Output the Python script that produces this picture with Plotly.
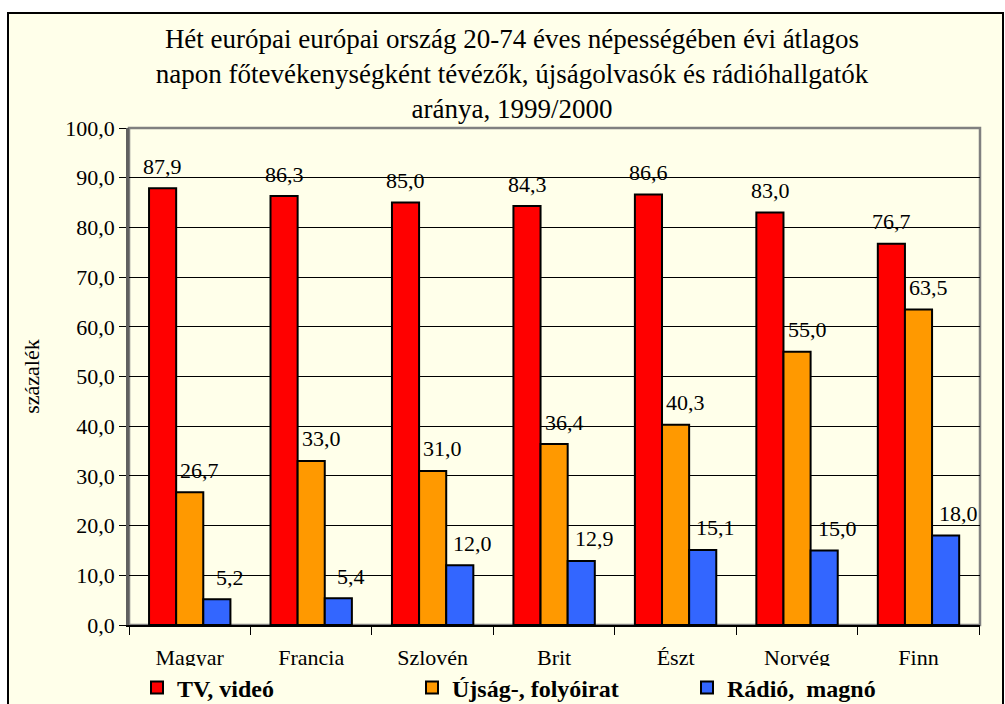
import plotly.graph_objects as go

categories = ["Magyar", "Francia", "Szlovén", "Brit", "Észt", "Norvég", "Finn"]
tv_video = [87.9, 86.3, 85.0, 84.3, 86.6, 83.0, 76.7]
ujsag = [26.7, 33.0, 31.0, 36.4, 40.3, 55.0, 63.5]
radio = [5.2, 5.4, 12.0, 12.9, 15.1, 15.0, 18.0]
series_names = ["TV, videó", "Újság-, folyóirat", "Rádió,  magnó"]
y_ticks = [0, 10, 20, 30, 40, 50, 60, 70, 80, 90, 100]

colors = ["#FF0000", "#FF9900", "#3366FF"]
serif = "Liberation Serif"
cream = "#FFFFEA"

W, H = 1005, 704
L, R, T, B = 129, 25, 128, 79
pw, ph = W - L - R, H - T - B

fig = go.Figure()
for name, vals, col in zip(series_names, [tv_video, ujsag, radio], colors):
    fig.add_trace(go.Bar(
        x=categories, y=vals, name=name,
        marker=dict(color=col, line=dict(color="black", width=2)),
    ))

# data labels
offsets = [-27, 10, 40]
for vals, off in zip([tv_video, ujsag, radio], offsets):
    for c, v in zip(categories, vals):
        fig.add_annotation(
            x=c, y=v, xref="x", yref="y",
            text=f"{v:.1f}".replace(".", ","),
            showarrow=False, xshift=off, yshift=22,
            font=dict(family=serif, size=22, color="black"),
        )


def px_x(p):
    return (p - L) / pw


def px_y(p):
    return (H - B - p) / ph


# outer frame (cream chart area with black border)
fig.add_shape(type="rect", xref="paper", yref="paper",
              x0=px_x(8), x1=px_x(1003), y0=px_y(712), y1=px_y(13),
              fillcolor=cream, line=dict(color="black", width=2), layer="below")
# plot area border (gray)
fig.add_shape(type="rect", xref="paper", yref="paper",
              x0=0, x1=1, y0=0, y1=1,
              line=dict(color="#808080", width=2.5), layer="below")

fig.update_layout(
    width=W, height=H,
    margin=dict(l=L, r=R, t=T, b=B, autoexpand=False),
    paper_bgcolor="white",
    plot_bgcolor="rgba(0,0,0,0)",
    separators=", ",
    barmode="group", bargap=0.33, bargroupgap=0,
    title=dict(
        text="Hét európai európai ország 20-74 éves népességében évi átlagos<br>"
             "napon főtevékenységként tévézők, újságolvasók és rádióhallgatók<br>"
             "aránya, 1999/2000",
        x=512 / W, xanchor="center", xref="container",
        y=1 - 48 / H, yanchor="middle", yref="container",
        font=dict(family=serif, size=27, color="black"),
    ),
    font=dict(family=serif, color="black"),
    showlegend=True,
    legend=dict(
        orientation="h", x=px_x(137), xanchor="left", y=px_y(688), yanchor="middle",
        font=dict(family=serif, size=24, color="black", weight="bold"),
        bgcolor=cream, entrywidth=230, entrywidthmode="pixels",
        itemsizing="constant", traceorder="normal",
    ),
    xaxis=dict(
        type="category", showgrid=False, showline=True, linecolor="black", linewidth=1.5,
        ticks="outside", tickson="boundaries", ticklen=8, tickcolor="black",
        tickfont=dict(family=serif, size=22, color="black"),
        ticklabelstandoff=12,
    ),
    yaxis=dict(
        range=[0, 100], tickvals=y_ticks, tickformat=".1f",
        showgrid=True, gridcolor="black", gridwidth=1,
        showline=True, linecolor="#606060", linewidth=2.5,
        ticks="outside", ticklen=7, tickcolor="black",
        tickfont=dict(family=serif, size=22, color="black"),
        title=dict(text="százalék", font=dict(family=serif, size=22, color="black"), standoff=20),
        zeroline=False,
    ),
)

fig.write_html("out.html", config={"displayModeBar": False},
               post_script="document.body.style.margin='0';")
